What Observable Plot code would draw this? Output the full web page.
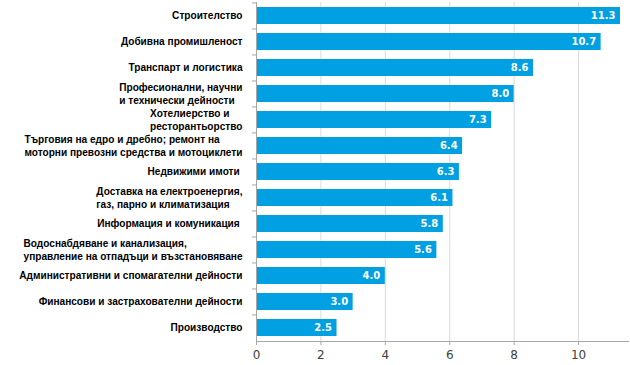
<!DOCTYPE html>
<html><head><meta charset="utf-8">
<script src="https://cdn.jsdelivr.net/npm/d3@7"></script>
<script src="https://cdn.jsdelivr.net/npm/@observablehq/plot@0.6"></script>
<style>body{margin:0;background:#fff}#chart svg{display:block}</style>
</head><body><div id="chart"></div>
<script>
const categories = [
  "Строителство",
  "Добивна промишленост",
  "Транспарт и логистика",
  "Професионални, научни\nи технически дейности",
  "Хотелиерство и\nресторантьорство",
  "Търговия на едро и дребно; ремонт на\nмоторни превозни средства и мотоциклети",
  "Недвижими имоти ",
  "Доставка на електроенергия,\nгаз, парно и климатизация",
  "Информация и комуникация ",
  "Водоснабдяване и канализация,\nуправление на отпадъци и възстановяване",
  "Административни и спомагателни дейности",
  "Финансови и застрахователни дейности",
  "Производство"
];
const values = [11.3, 10.7, 8.6, 8.0, 7.3, 6.4, 6.3, 6.1, 5.8, 5.6, 4.0, 3.0, 2.5];
const xTicks = [0, 2, 4, 6, 8, 10];

const W = 630, H = 365, mL = 256, mR = 2, mT = 2, mB = 24;
const data = categories.map((c, i) => ({name: c, value: values[i]}));
const step = (H - mT - mB) / categories.length;

const fontSize = 10.1;
const ctx = document.createElement("canvas").getContext("2d");
ctx.font = `bold ${fontSize}px 'Liberation Sans'`;
const widthOf = s => Math.max(...s.split("\n").map(l => ctx.measureText(l).width));

const labelMarks = data.map(d => Plot.text([d], {
  frameAnchor: "left", y: "name", text: "name",
  textAnchor: "start", lineAnchor: "middle", lineHeight: 1.3,
  dx: -(14 + widthOf(d.name)), dy: -1,
  fontFamily: "Liberation Sans", fontWeight: "bold", fontSize, fill: "#000"
}));

const chart = Plot.plot({
  width: W, height: H,
  marginLeft: mL, marginRight: mR, marginTop: mT, marginBottom: mB,
  x: {domain: [0, 11.55]},
  y: {domain: categories, paddingInner: 0.35, paddingOuter: 0.175},
  style: {background: "#fff"},
  marks: [
    Plot.gridX(xTicks.slice(1), {stroke: "#d9d9d9", strokeOpacity: 1}),
    Plot.barX(data, {x: "value", y: "name", fill: "#00a0e3"}),
    Plot.text(data, {
      x: "value", y: "name", text: d => d.value.toFixed(1),
      textAnchor: "end", dx: -5, fill: "#fff",
      fontFamily: "DejaVu Sans", fontWeight: "bold", fontSize: 10
    }),
    Plot.ruleX([0], {stroke: "#a6a6a6"}),
    Plot.frame({anchor: "bottom", stroke: "#a6a6a6"}),
    Plot.axisX({ticks: xTicks, tickSize: 4, tickPadding: 5, stroke: "#a6a6a6",
      fill: "#404040", fontFamily: "DejaVu Sans", fontSize: 12, label: null}),
    Plot.axisY({tickSize: 4, tickFormat: () => "", dy: -step / 2, stroke: "#a6a6a6", label: null}),
    ...labelMarks
  ]
});
document.getElementById("chart").appendChild(chart);
</script>
</body></html>
